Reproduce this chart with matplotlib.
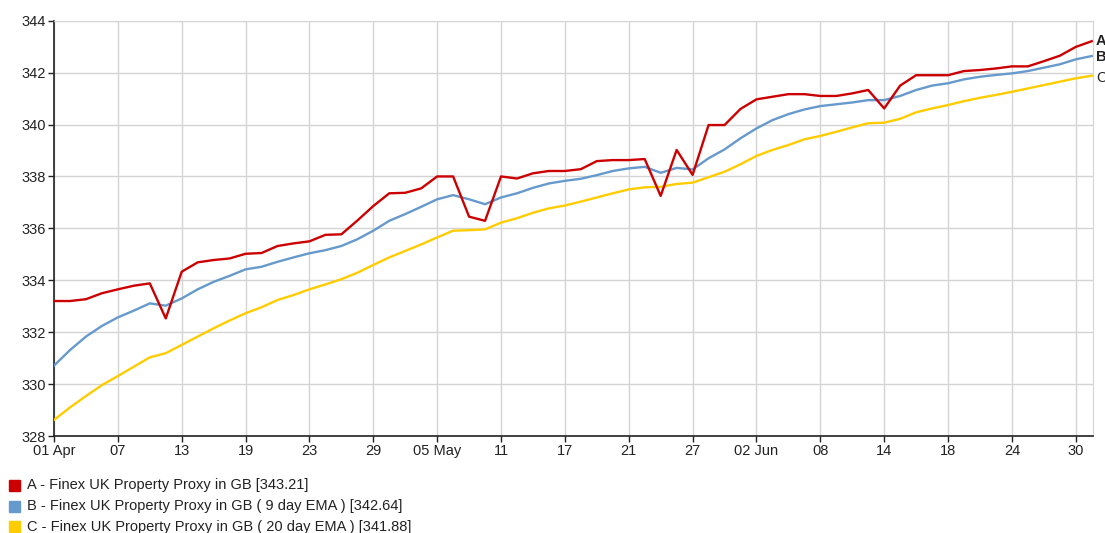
import numpy as np
import pandas as pd
import matplotlib
matplotlib.use("Agg")
import matplotlib.pyplot as plt
from matplotlib.patches import Rectangle

plt.rcParams['font.family'] = ['Liberation Sans', 'DejaVu Sans']

# weekday series, 01 Apr .. 01 Jul
dates = pd.bdate_range('2021-04-01', '2021-07-01')

price = [333.2, 333.2, 333.27, 333.5, 333.65, 333.79, 333.88, 332.53, 334.33, 334.69,
         334.78, 334.84, 335.02, 335.05, 335.32, 335.42, 335.5, 335.75, 335.77, 336.3,
         336.86, 337.35, 337.37, 337.54, 338.0, 338.0, 336.45, 336.29, 338.0, 337.92,
         338.12, 338.21, 338.21, 338.28, 338.59, 338.63, 338.63, 338.67, 337.25, 339.02,
         338.06, 339.98, 339.98, 340.6, 340.97, 341.07, 341.17, 341.17, 341.1, 341.1,
         341.2, 341.33, 340.62, 341.5, 341.9, 341.9, 341.9, 342.06, 342.1, 342.16,
         342.24, 342.24, 342.44, 342.65, 342.99, 343.21]

ema9 = [330.71, 331.31, 331.83, 332.24, 332.57, 332.83, 333.11, 333.02, 333.3, 333.65,
        333.94, 334.17, 334.42, 334.52, 334.71, 334.88, 335.04, 335.16, 335.32, 335.58,
        335.91, 336.29, 336.55, 336.83, 337.12, 337.28, 337.12, 336.93, 337.19, 337.35,
        337.56, 337.73, 337.83, 337.91, 338.05, 338.21, 338.31, 338.37, 338.14, 338.33,
        338.27, 338.7, 339.04, 339.47, 339.85, 340.17, 340.4, 340.58, 340.71, 340.78,
        340.85, 340.94, 340.94, 341.1, 341.33, 341.5, 341.59, 341.74, 341.84, 341.91,
        341.97, 342.06, 342.19, 342.32, 342.51, 342.64]

ema20 = [328.62, 329.1, 329.54, 329.96, 330.31, 330.67, 331.03, 331.19, 331.51, 331.83,
         332.15, 332.45, 332.73, 332.96, 333.24, 333.43, 333.65, 333.84, 334.04, 334.29,
         334.59, 334.88, 335.13, 335.38, 335.65, 335.91, 335.93, 335.96, 336.22, 336.39,
         336.6, 336.77, 336.88, 337.03, 337.19, 337.35, 337.5, 337.58, 337.6, 337.71,
         337.76, 337.97, 338.18, 338.47, 338.79, 339.02, 339.21, 339.43, 339.56, 339.72,
         339.89, 340.05, 340.07, 340.22, 340.47, 340.62, 340.75, 340.9, 341.03, 341.14,
         341.26, 341.39, 341.52, 341.65, 341.78, 341.88]

tick_labels = ['01 Apr', '07', '13', '19', '23', '29', '05 May', '11', '17', '21', '27',
               '02 Jun', '08', '14', '18', '24', '30']
yticks = [328, 330, 332, 334, 336, 338, 340, 342, 344]

RED = '#cc0000'
BLUE = '#6699cc'
YELLOW = '#ffcc00'

W, H = 1105, 533
fig = plt.figure(figsize=(W / 100, H / 100), dpi=100)
ax = fig.add_axes([54 / W, (H - 436) / H, (1093 - 54) / W, (436 - 20.7) / H])

x = np.arange(len(dates))
ax.plot(x, ema20, color=YELLOW, lw=1.7, zorder=3)
ax.plot(x, ema9, color=BLUE, lw=1.7, zorder=4)
ax.plot(x, price, color=RED, lw=1.7, zorder=5)

ax.set_xlim(0, 65.08)
ax.set_ylim(328, 344)
ax.set_xticks(x[::4][:len(tick_labels)])
ax.set_xticklabels(tick_labels)
ax.set_yticks(yticks)
ax.grid(True, color='#d4d4d4', lw=1.0)
ax.set_axisbelow(True)

for side in ['top', 'right']:
    ax.spines[side].set_color('#d4d4d4')
for side in ['left', 'bottom']:
    ax.spines[side].set_color('#222222')
    ax.spines[side].set_linewidth(1.2)
ax.tick_params(direction='out', length=4, width=1, color='#222222',
               labelsize=10.5, labelcolor='#222222', pad=2)

# end-of-series tags
tr = ax.get_yaxis_transform()
ax.text(1.003, price[-1], 'A', transform=tr, ha='left', va='center',
        fontsize=10.5, fontweight='bold', color='#222222', clip_on=False)
ax.text(1.003, ema9[-1] - 0.05, 'B', transform=tr, ha='left', va='center',
        fontsize=10.5, fontweight='bold', color='#222222', clip_on=False)
ax.text(1.003, ema20[-1] - 0.1, 'C', transform=tr, ha='left', va='center',
        fontsize=10.5, color='#222222', clip_on=False)

# legend block below the chart
entries = [
    (RED, f'A - Finex UK Property Proxy in GB [{price[-1]:.2f}]'),
    (BLUE, f'B - Finex UK Property Proxy in GB ( 9 day EMA ) [{ema9[-1]:.2f}]'),
    (YELLOW, f'C - Finex UK Property Proxy in GB ( 20 day EMA ) [{ema20[-1]:.2f}]'),
]
for k, (col, label) in enumerate(entries):
    yc = 485.5 + 20.5 * k
    fig.patches.append(Rectangle((9 / W, (H - yc - 5.5) / H), 11 / W, 11 / H,
                                 transform=fig.transFigure, color=col))
    fig.text(27 / W, (H - yc) / H, label, ha='left', va='center',
             fontsize=10.5, color='#222222')

fig.savefig('out.png', dpi=100)
